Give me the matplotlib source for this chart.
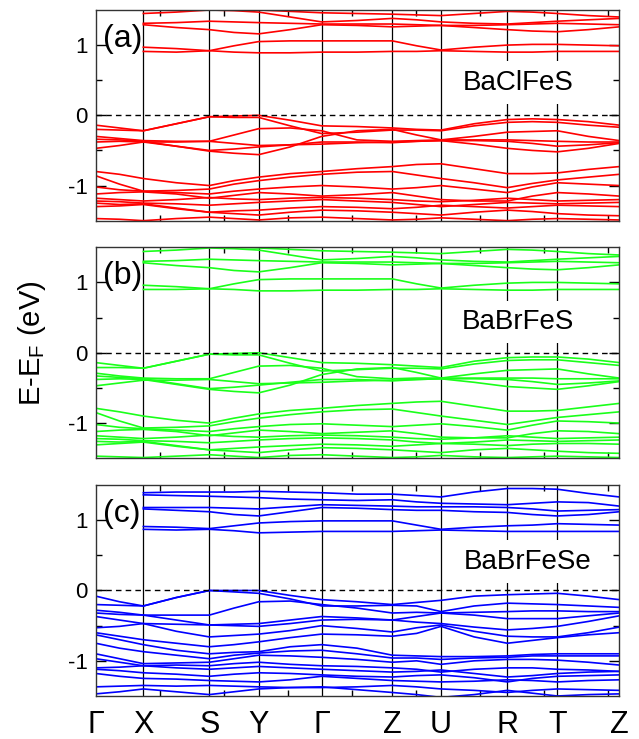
import matplotlib
matplotlib.use("Agg")
import matplotlib.pyplot as plt
import numpy as np

plt.rcParams['font.family'] = ['Liberation Sans', 'DejaVu Sans']

# high-symmetry points along the k-path (path length in arbitrary units)
k_labels = ['Γ', 'X', 'S', 'Y', 'Γ', 'Z', 'U', 'R', 'T', 'Z']
k_points = [0.0, 0.744, 1.775, 2.547, 3.531, 4.634, 5.395, 6.431, 7.2125, 8.181]

nan = np.nan

# energies (eV) at Γ, mid, X, mid, S, mid, Y, mid, Γ, mid, Z, mid, U, mid, R, mid, T, mid, Z
bands_a = [
    [-0.14, -0.18, -0.22, -0.12, -0.02, -0.01, 0.00, -0.07, -0.15, -0.16, -0.18, -0.20, -0.21, -0.12, -0.06, -0.05, -0.06, -0.09, -0.14],
    [-0.20, -0.21, -0.22, -0.12, -0.02, -0.03, -0.03, -0.15, -0.26, -0.24, -0.21, -0.21, -0.22, -0.15, -0.10, -0.09, -0.10, -0.14, -0.17],
    [-0.30, -0.33, -0.36, -0.37, -0.37, -0.28, -0.19, -0.18, -0.22, -0.35, -0.37, -0.36, -0.35, -0.35, -0.35, -0.36, -0.37, -0.38, -0.38],
    [-0.34, -0.35, -0.37, -0.44, -0.50, -0.48, -0.45, -0.42, -0.38, -0.38, -0.39, -0.37, -0.36, -0.41, -0.47, -0.50, -0.52, -0.47, -0.40],
    [-0.38, -0.37, -0.38, -0.44, -0.51, -0.54, -0.56, -0.45, -0.30, -0.22, -0.20, -0.28, -0.35, -0.30, -0.24, -0.23, -0.22, -0.30, -0.36],
    [-0.47, -0.43, -0.38, -0.38, -0.37, -0.40, -0.43, -0.42, -0.41, -0.39, -0.38, -0.37, -0.36, -0.36, -0.37, -0.40, -0.44, -0.42, -0.39],
    [-0.80, -0.84, -0.90, -0.96, -1.00, -0.93, -0.88, -0.83, -0.80, -0.76, -0.73, -0.70, -0.69, -0.76, -0.83, -0.83, -0.82, -0.77, -0.73],
    [-0.86, -0.98, -1.08, -1.07, -1.05, -0.98, -0.93, -0.88, -0.84, -0.81, -0.80, -0.85, -0.90, -0.96, -1.03, -0.97, -0.92, -0.88, -0.84],
    [-1.02, -1.06, -1.08, -1.10, -1.12, -1.08, -1.05, -1.02, -1.00, -1.02, -1.05, -1.03, -1.00, -1.05, -1.10, -1.02, -0.96, -0.98, -1.00],
    [-1.12, -1.10, -1.09, -1.12, -1.18, -1.14, -1.10, -1.12, -1.15, -1.13, -1.10, -1.15, -1.20, -1.22, -1.22, -1.15, -1.10, -1.12, -1.15],
    [-1.18, -1.20, -1.22, -1.20, -1.17, -1.19, -1.20, -1.18, -1.17, -1.18, -1.20, -1.22, -1.23, -1.21, -1.18, -1.20, -1.22, -1.21, -1.20],
    [-1.22, -1.23, -1.25, -1.26, -1.28, -1.26, -1.24, -1.22, -1.20, -1.22, -1.24, -1.27, -1.30, -1.27, -1.24, -1.25, -1.26, -1.25, -1.24],
    [-1.25, -1.27, -1.26, -1.32, -1.38, -1.36, -1.35, -1.32, -1.30, -1.31, -1.33, -1.31, -1.28, -1.30, -1.32, -1.30, -1.28, -1.29, -1.30],
    [-1.30, -1.29, -1.27, -1.33, -1.38, -1.40, -1.42, -1.38, -1.35, -1.36, -1.38, -1.40, -1.42, -1.38, -1.35, -1.37, -1.40, -1.42, -1.43],
    [-1.47, -1.48, -1.50, -1.47, -1.45, -1.47, -1.49, -1.46, -1.45, -1.47, -1.49, -1.48, -1.46, -1.48, -1.50, -1.48, -1.47, -1.48, -1.49],
    [nan, nan, 0.91, 0.90, 0.92, 0.90, 0.89, 0.89, 0.90, 0.90, 0.91, 0.91, 0.92, 0.91, 0.90, 0.90, 0.91, 0.91, 0.91],
    [nan, nan, 0.97, 0.95, 0.92, 0.99, 1.05, 1.06, 1.06, 1.06, 1.06, 0.99, 0.93, 0.97, 1.00, 1.01, 1.01, 1.00, 0.99],
    [nan, nan, 1.29, 1.25, 1.22, 1.18, 1.16, 1.22, 1.29, 1.28, 1.26, 1.27, 1.28, 1.25, 1.22, 1.20, 1.19, 1.22, 1.26],
    [nan, nan, 1.31, 1.32, 1.34, 1.33, 1.32, 1.31, 1.30, 1.30, 1.30, 1.29, 1.28, 1.28, 1.29, 1.30, 1.31, 1.30, 1.29],
    [nan, nan, 1.45, 1.47, 1.50, 1.49, 1.47, 1.40, 1.33, 1.35, 1.38, 1.36, 1.33, 1.31, 1.30, 1.32, 1.34, 1.36, 1.38],
    [nan, nan, 1.55, 1.54, 1.52, 1.51, 1.50, 1.48, 1.46, 1.45, 1.44, 1.43, 1.42, 1.45, 1.48, 1.47, 1.45, 1.42, 1.40],
]

bands_b = [
    [-0.14, -0.18, -0.22, -0.12, -0.02, -0.01, 0.00, -0.07, -0.14, -0.15, -0.17, -0.19, -0.21, -0.12, -0.07, -0.06, -0.06, -0.09, -0.14],
    [-0.21, -0.21, -0.22, -0.12, -0.02, -0.03, -0.03, -0.15, -0.26, -0.24, -0.22, -0.22, -0.23, -0.16, -0.11, -0.10, -0.10, -0.14, -0.18],
    [-0.29, -0.33, -0.36, -0.37, -0.37, -0.28, -0.19, -0.18, -0.22, -0.34, -0.37, -0.36, -0.36, -0.36, -0.36, -0.36, -0.37, -0.37, -0.37],
    [-0.33, -0.35, -0.37, -0.44, -0.51, -0.49, -0.46, -0.42, -0.38, -0.38, -0.40, -0.38, -0.37, -0.42, -0.48, -0.50, -0.52, -0.47, -0.41],
    [-0.38, -0.37, -0.38, -0.45, -0.52, -0.55, -0.57, -0.46, -0.31, -0.23, -0.21, -0.28, -0.36, -0.30, -0.25, -0.24, -0.23, -0.30, -0.36],
    [-0.47, -0.43, -0.39, -0.39, -0.38, -0.41, -0.44, -0.43, -0.42, -0.40, -0.39, -0.38, -0.37, -0.37, -0.38, -0.41, -0.45, -0.43, -0.40],
    [-0.79, -0.84, -0.90, -0.96, -1.00, -0.93, -0.87, -0.82, -0.79, -0.75, -0.72, -0.70, -0.69, -0.76, -0.83, -0.83, -0.82, -0.77, -0.72],
    [-0.85, -0.97, -1.07, -1.06, -1.04, -0.98, -0.93, -0.88, -0.84, -0.81, -0.80, -0.85, -0.90, -0.96, -1.02, -0.97, -0.92, -0.88, -0.84],
    [-1.02, -1.06, -1.08, -1.10, -1.12, -1.08, -1.05, -1.02, -1.01, -1.03, -1.05, -1.03, -1.01, -1.05, -1.10, -1.03, -0.97, -0.98, -1.00],
    [-1.12, -1.10, -1.09, -1.12, -1.18, -1.14, -1.10, -1.12, -1.15, -1.13, -1.11, -1.15, -1.20, -1.21, -1.21, -1.15, -1.11, -1.12, -1.15],
    [-1.18, -1.20, -1.22, -1.20, -1.17, -1.19, -1.20, -1.18, -1.17, -1.18, -1.20, -1.22, -1.23, -1.21, -1.18, -1.20, -1.22, -1.21, -1.20],
    [-1.22, -1.23, -1.25, -1.26, -1.28, -1.26, -1.24, -1.22, -1.21, -1.22, -1.24, -1.27, -1.29, -1.27, -1.24, -1.25, -1.26, -1.25, -1.24],
    [-1.26, -1.27, -1.26, -1.32, -1.38, -1.36, -1.34, -1.32, -1.30, -1.31, -1.33, -1.31, -1.29, -1.30, -1.32, -1.30, -1.29, -1.29, -1.30],
    [-1.31, -1.29, -1.27, -1.33, -1.38, -1.40, -1.42, -1.38, -1.35, -1.36, -1.38, -1.40, -1.42, -1.38, -1.36, -1.38, -1.40, -1.42, -1.43],
    [-1.47, -1.48, -1.49, -1.47, -1.45, -1.47, -1.49, -1.46, -1.45, -1.47, -1.49, -1.48, -1.46, -1.48, -1.49, -1.48, -1.47, -1.48, -1.49],
    [nan, nan, 0.90, 0.90, 0.91, 0.90, 0.88, 0.88, 0.89, 0.89, 0.90, 0.90, 0.91, 0.90, 0.89, 0.89, 0.90, 0.90, 0.90],
    [nan, nan, 0.96, 0.94, 0.91, 0.98, 1.04, 1.05, 1.05, 1.05, 1.05, 0.98, 0.92, 0.96, 0.99, 1.00, 1.00, 0.99, 0.98],
    [nan, nan, 1.28, 1.24, 1.21, 1.17, 1.15, 1.21, 1.28, 1.27, 1.25, 1.26, 1.27, 1.24, 1.21, 1.19, 1.18, 1.21, 1.25],
    [nan, nan, 1.30, 1.31, 1.33, 1.32, 1.31, 1.30, 1.29, 1.29, 1.29, 1.28, 1.27, 1.27, 1.28, 1.29, 1.30, 1.29, 1.28],
    [nan, nan, 1.44, 1.46, 1.49, 1.48, 1.46, 1.39, 1.32, 1.34, 1.37, 1.35, 1.32, 1.30, 1.29, 1.31, 1.33, 1.35, 1.37],
    [nan, nan, 1.55, 1.53, 1.51, 1.50, 1.49, 1.47, 1.45, 1.44, 1.43, 1.42, 1.41, 1.44, 1.47, 1.46, 1.44, 1.41, 1.39],
]

bands_c = [
    [-0.08, -0.16, -0.22, -0.10, 0.00, 0.00, 0.00, -0.07, -0.13, -0.16, -0.20, -0.17, -0.14, -0.08, -0.06, -0.05, -0.04, -0.08, -0.13],
    [-0.20, -0.21, -0.22, -0.10, 0.00, -0.02, -0.04, -0.12, -0.22, -0.22, -0.21, -0.22, -0.30, -0.22, -0.18, -0.19, -0.20, -0.22, -0.24],
    [-0.28, -0.31, -0.35, -0.35, -0.35, -0.25, -0.16, -0.15, -0.20, -0.25, -0.32, -0.31, -0.32, -0.31, -0.30, -0.29, -0.29, -0.30, -0.30],
    [-0.32, -0.34, -0.35, -0.42, -0.49, -0.48, -0.47, -0.42, -0.37, -0.39, -0.42, -0.37, -0.32, -0.35, -0.40, -0.40, -0.40, -0.36, -0.32],
    [-0.37, -0.42, -0.47, -0.48, -0.49, -0.50, -0.51, -0.47, -0.42, -0.41, -0.42, -0.45, -0.47, -0.52, -0.56, -0.54, -0.51, -0.44, -0.36],
    [-0.53, -0.51, -0.47, -0.58, -0.66, -0.64, -0.62, -0.57, -0.50, -0.54, -0.59, -0.53, -0.49, -0.58, -0.65, -0.66, -0.66, -0.60, -0.52],
    [-0.60, -0.65, -0.70, -0.75, -0.80, -0.77, -0.73, -0.67, -0.62, -0.63, -0.65, -0.61, -0.51, -0.66, -0.75, -0.71, -0.67, -0.63, -0.60],
    [-0.63, -0.70, -0.77, -0.85, -0.90, -0.88, -0.87, -0.80, -0.77, -0.82, -0.92, -0.93, -0.94, -0.94, -0.93, -0.91, -0.90, -0.90, -0.90],
    [-0.75, -0.82, -0.87, -0.92, -0.97, -0.92, -0.89, -0.86, -0.85, -0.90, -0.96, -0.96, -0.98, -0.96, -0.95, -0.93, -0.93, -0.93, -0.93],
    [-0.90, -0.97, -1.04, -1.03, -1.02, -0.97, -0.92, -0.93, -0.95, -0.98, -1.02, -1.00, -1.05, -1.00, -0.98, -0.98, -0.99, -1.02, -1.06],
    [-0.97, -1.02, -1.07, -1.06, -1.07, -1.04, -1.02, -1.05, -1.07, -1.08, -1.10, -1.12, -1.16, -1.12, -1.10, -1.10, -1.12, -1.13, -1.15],
    [-1.10, -1.09, -1.07, -1.10, -1.12, -1.10, -1.08, -1.10, -1.12, -1.14, -1.16, -1.15, -1.13, -1.18, -1.23, -1.21, -1.18, -1.16, -1.15],
    [-1.12, -1.14, -1.17, -1.19, -1.22, -1.19, -1.17, -1.18, -1.20, -1.22, -1.23, -1.21, -1.20, -1.24, -1.30, -1.25, -1.22, -1.21, -1.20],
    [-1.18, -1.22, -1.25, -1.26, -1.28, -1.29, -1.30, -1.27, -1.22, -1.25, -1.28, -1.29, -1.30, -1.29, -1.27, -1.28, -1.30, -1.28, -1.27],
    [-1.37, -1.36, -1.35, -1.36, -1.35, -1.36, -1.37, -1.38, -1.38, -1.37, -1.35, -1.37, -1.40, -1.42, -1.45, -1.42, -1.40, -1.41, -1.42],
    [-1.47, -1.44, -1.40, -1.44, -1.48, -1.44, -1.40, -1.38, -1.37, -1.41, -1.45, -1.48, -1.52, -1.48, -1.42, -1.46, -1.50, -1.48, -1.47],
    [nan, nan, 0.87, 0.86, 0.87, 0.85, 0.82, 0.83, 0.84, 0.84, 0.84, 0.85, 0.86, 0.85, 0.84, 0.84, 0.84, 0.84, 0.84],
    [nan, nan, 0.91, 0.90, 0.88, 0.92, 0.96, 0.98, 0.99, 0.99, 0.99, 0.93, 0.87, 0.90, 0.92, 0.93, 0.95, 0.94, 0.93],
    [nan, nan, 1.16, 1.14, 1.12, 1.08, 1.06, 1.12, 1.18, 1.17, 1.15, 1.14, 1.14, 1.12, 1.11, 1.08, 1.06, 1.08, 1.12],
    [nan, nan, 1.18, 1.18, 1.18, 1.17, 1.16, 1.19, 1.22, 1.21, 1.20, 1.19, 1.19, 1.19, 1.18, 1.16, 1.13, 1.14, 1.15],
    [nan, nan, 1.36, 1.35, 1.34, 1.33, 1.32, 1.30, 1.29, 1.28, 1.29, 1.26, 1.24, 1.23, 1.22, 1.24, 1.26, 1.25, 1.20],
    [nan, nan, 1.39, 1.40, 1.40, 1.40, 1.41, 1.40, 1.39, 1.37, 1.37, 1.35, 1.33, 1.40, 1.45, 1.45, 1.44, 1.38, 1.33],
]

panel_tags = ['(a)', '(b)', '(c)']
compounds = ['BaClFeS', 'BaBrFeS', 'BaBrFeSe']
colors = ['#ff0000', '#1aff1a', '#0000ff']

# sample positions: high-symmetry points and the midpoints between them
kp = np.array(k_points)
kgrid = np.empty(2 * len(kp) - 1)
kgrid[0::2] = kp
kgrid[1::2] = 0.5 * (kp[:-1] + kp[1:])

fig = plt.figure(figsize=(6.39, 7.39), dpi=100)
boxes = [[0.1498, 0.7014, 0.8194, 0.2851],
         [0.1498, 0.3799, 0.8194, 0.2855],
         [0.1498, 0.0582, 0.8194, 0.2855]]
label_pos = [(0.807, 0.655), (0.806, 0.646), (0.825, 0.636)]

for i, bands in enumerate([bands_a, bands_b, bands_c]):
    ax = fig.add_axes(boxes[i])
    for e in bands:
        ax.plot(kgrid, e, color=colors[i], lw=1.2, zorder=2)
    for k in k_points[1:-1]:
        ax.axvline(k, color='black', lw=0.9, zorder=1)
    ax.axhline(0, color='black', lw=1.0, ls=(0, (4, 3)), zorder=3)
    ax.set_xlim(k_points[0], k_points[-1])
    ax.set_ylim(-1.5, 1.5)

    ax.set_yticks([-1, 0, 1])
    ax.set_yticklabels(['-1', '0', '1'])
    ax.set_yticks([-0.5, 0.5], minor=True)
    ax.set_xticks(k_points)
    ax.set_xticks(np.arange(1, 9), minor=True)
    ax.tick_params(axis='y', which='major', direction='in', length=7, width=1,
                   labelsize=16, right=True, pad=6)
    ax.tick_params(axis='y', which='minor', direction='in', length=4, width=1, right=True)
    ax.tick_params(axis='x', which='major', length=0, labelsize=22, pad=10)
    ax.tick_params(axis='x', which='minor', direction='in', length=4, width=1, top=True)
    if i == 2:
        ax.set_xticklabels(k_labels)
    else:
        ax.set_xticklabels([])
    for s in ax.spines.values():
        s.set_color('#333333')
        s.set_linewidth(1.0)

    ax.text(0.014, 0.862, panel_tags[i], transform=ax.transAxes, fontsize=23,
            ha='left', va='center', zorder=5)
    ax.text(label_pos[i][0], label_pos[i][1], compounds[i], transform=ax.transAxes,
            fontsize=20, ha='center', va='center', zorder=5,
            bbox=dict(boxstyle='square,pad=0.3', fc='white', ec='none'))

fig.text(0.05, 0.535, 'E-E$_\\mathregular{F}$ (eV)', rotation=90, fontsize=21,
         ha='center', va='center')

fig.savefig('out.png', dpi=100)
